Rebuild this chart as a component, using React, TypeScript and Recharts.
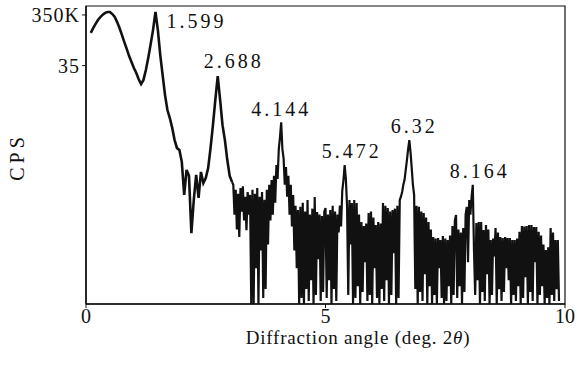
import { LineChart, Line, XAxis, YAxis, ReferenceArea, LabelList } from 'recharts'

// scan; intensity on the plot's relative (log) scale 0..100
// low-angle part sampled every 0.05 deg, the noisy part every 0.025 deg
const SCAN_A_START = 0.1
const SCAN_A_STEP = 0.05
const SCAN_A = [
  91, 92.6, 94, 95.3, 96.3, 97.1, 97.7, 98, 98, 97.3,
  96.3, 94.6, 92.6, 90.3, 87.9, 85.6, 83.2, 81.2, 79.2, 77.5,
  75.4, 73.8, 75.2, 78.5, 82.6, 87.2, 92, 98, 92, 83.6,
  76.8, 70.1, 65.1, 62.4, 59.1, 55, 52.3, 51.7, 47.7, 36.6,
  45, 43, 23.8, 34.9, 43.3, 35.6, 44.3, 40.6,
]

const SCAN_B_START = 2.5
const SCAN_B_STEP = 0.05
const SCAN_B = [42.3, 45.6, 52.3, 60, 68.5, 76.5, 68.5, 60, 55, 48.3, 43, 40.9]

const SCAN_C_START = 3.075
const SCAN_C_STEP = 0.025
const SCAN_C = [
  40, 30, 38.3, 25, 37, 22.5, 38.9, 31, 39.5, 28,
  36, 24.8, 37.6, 30, 36.6, 0, 38.3, 0, 37, 12,
  38.9, 0, 36, 18, 37.6, 2, 35, 5, 38.3, 20,
  40, 28, 41.6, 30, 43, 34, 46.6, 42, 52, 56,
  61, 52, 49, 40, 46, 36, 43, 30, 40, 26,
  36.6, 18, 33, 12, 31.5, 0, 32.6, 2, 34, 0,
  31, 5, 34.9, 1, 30, 8, 32, 0, 35.9, 3,
  30.9, 15, 30, 1, 29.5, 4, 31,
]

const SCAN_D_START = 5.0
const SCAN_D_STEP = 0.025
const SCAN_D = [
  32.2, 2, 30, 8, 31.5, 0, 33, 5, 31, 1,
  30, 24, 33, 26, 38, 41.6, 46.6, 42, 33, 3,
  34.9, 20, 33.9, 0, 34.9, 2, 33.9, 6, 30, 0,
  27.5, 4, 26.2, 14, 27, 1, 30.5, 3, 31, 0,
  29, 12, 26.5, 2, 27.5, 0, 27, 5, 33.9, 1,
  33, 8, 32.2, 0, 31, 3, 31.5, 17, 32, 0,
  33, 2, 34.9, 36, 37.6, 40, 41.6, 45, 48.3, 52,
  55, 51, 45.6, 40, 36.6, 5, 33, 0, 32.6, 4,
  31, 1, 30.5, 10, 29, 0, 27.5, 6, 25, 0,
  22.5, 3, 22, 0, 22.1, 12, 21.5, 2, 22.8, 0,
]

const SCAN_E_START = 7.5
const SCAN_E_STEP = 0.025
const SCAN_E = [
  22, 1, 21.5, 6, 23, 0, 26.2, 3, 28, 29.9,
  2, 25, 6, 24, 0, 25.5, 4, 30, 32.6, 14,
  34.9, 30, 36, 40, 18, 3, 27.2, 8, 27.5, 0,
  27.5, 4, 24.8, 1, 26.5, 10, 25, 0, 21.5, 3,
  22, 16, 25.5, 0, 24, 5, 22.5, 1, 22.1, 4,
  22.5, 12, 22.1, 8, 22.1, 0, 21.5, 3, 21.5, 1,
  22, 6, 24.2, 0, 26.2, 2, 26, 9, 26.2, 0,
  26.5, 4, 26.5, 1, 25.8, 14, 25.8, 0, 24.2, 3,
  23, 6, 20, 0, 18.1, 2, 19, 0, 25.5, 3,
  24, 1, 21.5, 5, 21.5, 1,
]

const PEAK_ANGLES = [1.45, 2.75, 4.075, 5.4, 6.75, 8.075]
const PEAK_LABELS = ['1.599', '2.688', '4.144', '5.472', '6.32', '8.164']

const X_TICKS = [0, 5, 10]
const Y_TICKS = [80, 97]
const Y_TICK_LABELS = ['35', '350K']

// where each peak label sits relative to its peak (px)
const LABEL_SHIFT: Record<string, [number, number]> = {
  '1.599': [41, 9],
  '2.688': [16, -15],
  '4.144': [0, -13],
  '5.472': [7, -14],
  '6.32': [5, -14],
  '8.164': [7, -14],
}

const INK = '#111'
const SERIF = '"Liberation Serif", "Times New Roman", serif'

type Trace = 'smooth' | 'noisy'
type Row = {
  angle: number
  smooth?: number
  noisy?: number
  smoothPeak?: string
  noisyPeak?: string
}

function buildRows() {
  const segments: Array<[number, number, number[], Trace]> = [
    [SCAN_A_START, SCAN_A_STEP, SCAN_A, 'smooth'],
    [SCAN_B_START, SCAN_B_STEP, SCAN_B, 'smooth'],
    [SCAN_C_START, SCAN_C_STEP, SCAN_C, 'noisy'],
    [SCAN_D_START, SCAN_D_STEP, SCAN_D, 'noisy'],
    [SCAN_E_START, SCAN_E_STEP, SCAN_E, 'noisy'],
  ]
  const rows: Row[] = []
  segments.forEach(([start, step, values, key]) => {
    values.forEach((v, i) => {
      const angle = Math.round((start + i * step) * 1000) / 1000
      const k = PEAK_ANGLES.indexOf(angle)
      const row: Row = { angle }
      row[key] = v
      if (k >= 0) row[key === 'smooth' ? 'smoothPeak' : 'noisyPeak'] = PEAK_LABELS[k]
      rows.push(row)
    })
  })
  // join the two traces where the sampling changes
  const lastSmooth = rows.filter(r => r.smooth != null).pop()
  if (lastSmooth) lastSmooth.noisy = lastSmooth.smooth
  return rows
}

const rows = buildRows()

function PeakLabel(props: any) {
  const { x, y, value } = props
  if (!value || y == null || !Number.isFinite(Number(y))) return null
  const [dx, dy] = LABEL_SHIFT[value] || [0, -14]
  return (
    <text
      x={Number(x) + dx}
      y={Number(y) + dy}
      textAnchor="middle"
      dominantBaseline="central"
      fontFamily={SERIF}
      fontSize={20}
      letterSpacing={3}
      fill={INK}
    >
      {value}
    </text>
  )
}

function XTitle() {
  return (
    <text x={358} y={344} textAnchor="middle" fontFamily={SERIF} fontSize={19} letterSpacing={0.8} fill={INK}>
      Diffraction angle (deg. 2<tspan fontStyle="italic">θ</tspan>)
    </text>
  )
}

function YTitle() {
  return (
    <text
      x={17}
      y={157}
      transform="rotate(-90 17 157)"
      textAnchor="middle"
      dominantBaseline="central"
      fontFamily={SERIF}
      fontSize={20}
      letterSpacing={4}
      fill={INK}
    >
      CPS
    </text>
  )
}

export default function App() {
  return (
    <div style={{ position: 'absolute', left: 0, top: 0, width: 577, height: 367, background: '#fff' }}>
      <LineChart width={577} height={367} data={rows} margin={{ top: 6, right: 12, left: 0, bottom: 0 }}>
        <XAxis
          type="number"
          dataKey="angle"
          domain={[0, 10]}
          ticks={X_TICKS}
          height={63}
          tickSize={4}
          tickMargin={1}
          axisLine={{ stroke: INK, strokeWidth: 1.5 }}
          tickLine={{ stroke: INK }}
          tick={{ fill: INK, fontSize: 20, fontFamily: SERIF }}
          label={<XTitle />}
          allowDataOverflow
        />
        <YAxis
          type="number"
          domain={[0, 100]}
          ticks={Y_TICKS}
          width={86}
          tickSize={4}
          tickMargin={2}
          tickFormatter={v => Y_TICK_LABELS[Y_TICKS.indexOf(v)] ?? ''}
          axisLine={{ stroke: INK, strokeWidth: 1.5 }}
          tickLine={{ stroke: INK }}
          tick={{ fill: INK, fontSize: 20, fontFamily: SERIF, letterSpacing: 1 }}
          label={<YTitle />}
          allowDataOverflow
        />
        <ReferenceArea x1={0} x2={10} y1={0} y2={100} fill="none" stroke={INK} strokeWidth={1.2} ifOverflow="visible" />
        <Line
          type="linear"
          dataKey="smooth"
          stroke={INK}
          strokeWidth={2.6}
          dot={false}
          isAnimationActive={false}
        >
          <LabelList dataKey="smoothPeak" content={<PeakLabel />} />
        </Line>
        <Line
          type="linear"
          dataKey="noisy"
          stroke={INK}
          strokeWidth={2.2}
          dot={false}
          isAnimationActive={false}
        >
          <LabelList dataKey="noisyPeak" content={<PeakLabel />} />
        </Line>
      </LineChart>
    </div>
  )
}
